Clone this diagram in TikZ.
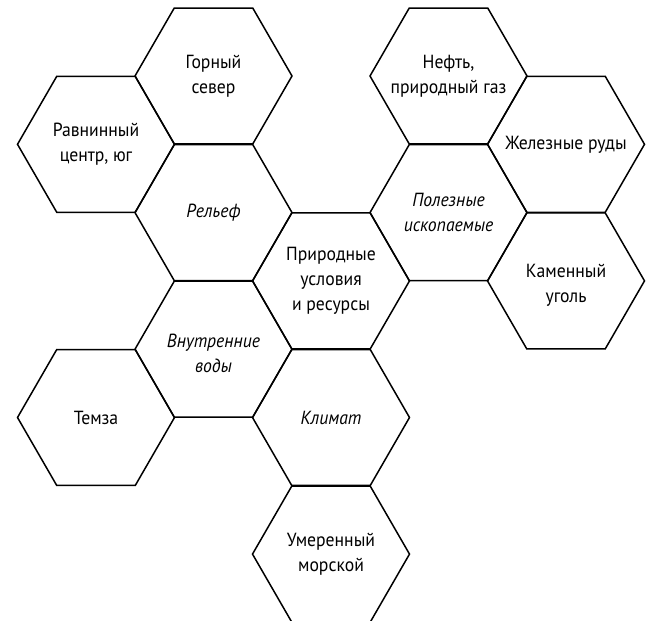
\documentclass[tikz,border=0pt]{standalone}
\usepackage{fontspec}
\setmainfont[FakeStretch=0.93]{PT Sans}
\usetikzlibrary{shapes.geometric}
\begin{document}
\begin{tikzpicture}[x=1pt,y=-1pt,
  hexcell/.style={draw=black, line width=1.5pt, regular polygon, regular polygon sides=6,
    minimum size=157pt, inner sep=0pt, outer sep=0pt},
  hextext/.style={align=center, inner sep=0pt, font=\fontsize{19}{25}\selectfont},
  hexit/.style={hextext, font=\fontsize{19}{25}\selectfont\itshape}]
\useasboundingbox (0,0) rectangle (646,621);
\clip (0,0) rectangle (646,621);
\def\sx{117.5}
\def\hy{68.3}
\def\xo{213.5}
\def\yo{76}
\node[hexcell, label={[hextext]center:Горный\\север}]          (gorny)  at (\xo+0*\sx, \yo+0*\hy) {};
\node[hexcell, label={[hextext]center:Равнинный\\центр, юг}]   (ravn)   at (\xo-1*\sx, \yo+1*\hy) {};
\node[hexcell, label={[hexit]center:Рельеф}]                   (relief) at (\xo+0*\sx, \yo+2*\hy) {};
\node[hexcell, label={[hextext]center:Природные\\условия\\и ресурсы}] (center) at (\xo+1*\sx, \yo+3*\hy) {};
\node[hexcell, label={[hexit]center:Полезные\\ископаемые}]     (polez)  at (\xo+2*\sx, \yo+2*\hy) {};
\node[hexcell, label={[hextext]center:Нефть,\\природный газ}]  (neft)   at (\xo+2*\sx, \yo+0*\hy) {};
\node[hexcell, label={[hextext]center:Железные руды}]          (zhel)   at (\xo+3*\sx, \yo+1*\hy) {};
\node[hexcell, label={[hextext,yshift=-4pt]center:Каменный\\уголь}] (kamen) at (\xo+3*\sx, \yo+3*\hy) {};
\node[hexcell, label={[hexit,yshift=-4pt]center:Внутренние\\воды}] (vodi) at (\xo+0*\sx, \yo+4*\hy) {};
\node[hexcell, label={[hextext]center:Темза}]                  (temza)  at (\xo-1*\sx, \yo+5*\hy) {};
\node[hexcell, label={[hexit]center:Климат}]                   (klimat) at (\xo+1*\sx, \yo+5*\hy) {};
\node[hexcell, label={[hextext]center:Умеренный\\морской}]     (umer)   at (\xo+1*\sx, \yo+7*\hy) {};
\end{tikzpicture}
\end{document}
